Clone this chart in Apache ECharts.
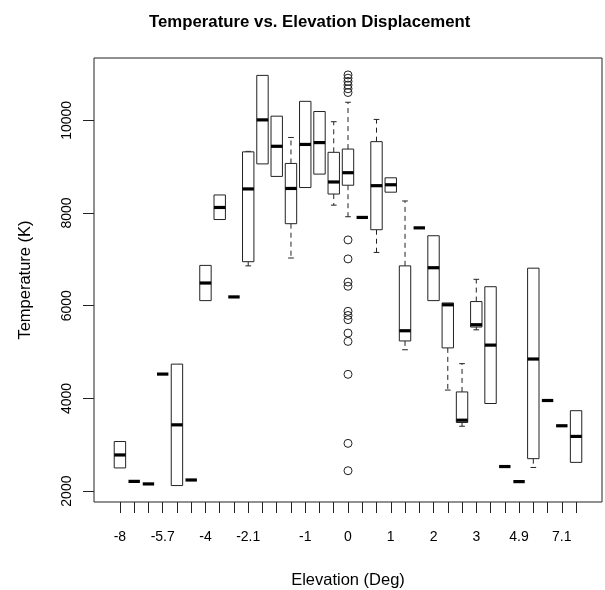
<!DOCTYPE html>
<html>
<head>
<meta charset="utf-8">
<script src="https://cdn.jsdelivr.net/npm/echarts@6/dist/echarts.min.js"></script>
<style>
html,body{margin:0;padding:0;background:#fff;}
#chart{width:605px;height:590px;}
</style>
</head>
<body>
<div id="chart"></div>
<script>
// Elevation displacement categories (only some labels are legible in the reference)
const categories = ['-8','-7.1','-6','-5.7','-5','-4.8','-4','-3.2','-3','-2.1','-2','-1.9','-1.1','-1','-0.9','-0.1','0','0.1','0.9','1','1.1','1.9','2','2.1','2.9','3','3.1','4','4.9','5','6','7.1','8'];
const tickLabels = ['-8','-5.7','-4','-2.1','-1','0','1','2','3','4.9','7.1'];
const yTicks = [2000, 4000, 6000, 8000, 10000];

// Five-number summaries per category
const whiskerLow  = [2500,2210,2155,4525,2120,2240,6110,7860,6190,6860,9060,8790,7030,8550,8840,8170,7920,7905,7150,8450,5050,7680,6110,4180,3400,5480,3890,2530,2205,2510,3955,3410,2620];
const boxLow      = [2500,2210,2155,4525,2120,2240,6110,7860,6190,6950,9060,8790,7770,8550,8840,8410,8600,7905,7640,8450,5240,7680,6110,5090,3480,5540,3890,2530,2205,2700,3955,3410,2620];
const medians     = [2780,2210,2155,4525,3430,2240,6490,8120,6190,8520,10010,9440,8530,9480,9520,8670,8870,7905,8590,8610,5460,7680,6820,6020,3530,5590,5150,2530,2205,4850,3955,3410,3180];
const boxHigh     = [3070,2210,2155,4525,4740,2240,6870,8390,6190,9320,10970,10090,9070,10410,10190,9310,9380,7905,9540,8760,6860,7680,7510,6060,4140,6090,6410,2530,2205,6810,3955,3410,3735];
const whiskerHigh = [3070,2210,2155,4525,4740,2240,6870,8390,6190,9330,10970,10090,9630,10410,10190,9970,10390,7905,10020,8760,8260,7680,7510,6060,4750,6570,6410,2530,2205,6810,3955,3410,3735];

// Outliers (category label, temperature)
const outlierCategory = '0';
const outlierValues = [10980,10910,10840,10760,10680,10600,7420,7010,6510,6420,5880,5790,5700,5410,5230,4520,3030,2440];

const boxData = categories.map((c, i) => [i, whiskerLow[i], boxLow[i], medians[i], boxHigh[i], whiskerHigh[i]]);
const outlierData = outlierValues.map(v => [outlierCategory, v]);

const FONT = "'Liberation Sans', Arial, Helvetica, sans-serif";
const LINE = '#222';

function renderBox(params, api) {
  const x = api.value(0);
  const lo = api.value(1), q1 = api.value(2), med = api.value(3), q3 = api.value(4), hi = api.value(5);
  const band = api.size([1, 0])[0];
  const bw = band * 0.8;
  const cw = bw * 0.5;
  const pLo = api.coord([x, lo]);
  const pQ1 = api.coord([x, q1]);
  const pMed = api.coord([x, med]);
  const pQ3 = api.coord([x, q3]);
  const pHi = api.coord([x, hi]);
  const cx = pMed[0];
  const children = [];
  const dashStyle = {stroke: LINE, lineWidth: 1, lineDash: [5, 4], fill: null};
  const solid = {stroke: LINE, lineWidth: 1, fill: null};
  if (hi > q3) {
    children.push({type: 'line', shape: {x1: cx, y1: pQ3[1], x2: cx, y2: pHi[1]}, style: dashStyle});
    children.push({type: 'line', shape: {x1: cx - cw / 2, y1: pHi[1], x2: cx + cw / 2, y2: pHi[1]}, style: solid});
  }
  if (lo < q1) {
    children.push({type: 'line', shape: {x1: cx, y1: pQ1[1], x2: cx, y2: pLo[1]}, style: dashStyle});
    children.push({type: 'line', shape: {x1: cx - cw / 2, y1: pLo[1], x2: cx + cw / 2, y2: pLo[1]}, style: solid});
  }
  if (q3 > q1) {
    children.push({type: 'rect', shape: {x: cx - bw / 2, y: pQ3[1], width: bw, height: pQ1[1] - pQ3[1]},
      style: {stroke: LINE, lineWidth: 1, fill: '#fff'}});
  }
  children.push({type: 'line', shape: {x1: cx - bw / 2, y1: pMed[1], x2: cx + bw / 2, y2: pMed[1]},
    style: {stroke: '#000', lineWidth: 3.2}});
  return {type: 'group', children: children};
}

const chart = echarts.init(document.getElementById('chart'), null, {renderer: 'canvas'});
const yMin = 1765, yMax = 11345;
chart.setOption({
  animation: false,
  backgroundColor: '#fff',
  title: {
    text: 'Temperature vs. Elevation Displacement',
    left: 144, top: 9,
    textStyle: {fontFamily: FONT, fontSize: 16.8, fontWeight: 'bold', color: '#000'}
  },
  grid: [
    {left: 94, right: 3, top: 58, bottom: 88, containLabel: false, outerBoundsMode: 'none',
     show: true, borderColor: LINE, borderWidth: 1, backgroundColor: 'transparent'},
    {left: 112.8, right: 21.8, top: 58, bottom: 88, containLabel: false, outerBoundsMode: 'none'}
  ],
  xAxis: [
    {gridIndex: 0, type: 'value', show: false, min: 0, max: 1},
    {
      gridIndex: 1, type: 'category', data: categories, boundaryGap: true, position: 'bottom',
      name: 'Elevation (Deg)', nameLocation: 'middle', nameGap: 70,
      nameTextStyle: {fontFamily: FONT, fontSize: 16.5, color: '#000'},
      axisLine: {show: false, onZero: false},
      axisTick: {show: true, alignWithLabel: true, interval: 0, length: 11, lineStyle: {color: LINE}},
      axisLabel: {
        interval: (idx, val) => tickLabels.includes(val),
        fontFamily: FONT, fontSize: 14, color: '#000', margin: 28
      },
      splitLine: {show: false}
    }
  ],
  yAxis: [
    {gridIndex: 0, type: 'value', show: false, min: yMin, max: yMax},
    {
      gridIndex: 1, type: 'value', min: yMin, max: yMax, offset: 18.8,
      name: 'Temperature (K)', nameLocation: 'middle', nameGap: 60, nameRotate: 90,
      nameTextStyle: {fontFamily: FONT, fontSize: 16.5, color: '#000'},
      axisLine: {show: false},
      axisTick: {show: true, length: 11, customValues: yTicks, lineStyle: {color: LINE}},
      axisLabel: {customValues: yTicks, rotate: 90, formatter: v => String(v), fontFamily: FONT, fontSize: 14, color: '#000', margin: 20},
      splitLine: {show: false}
    }
  ],
  series: [
    {
      type: 'custom', xAxisIndex: 1, yAxisIndex: 1,
      renderItem: renderBox,
      data: boxData,
      encode: {x: 0, y: [1, 2, 3, 4, 5]},
      z: 2
    },
    {
      type: 'scatter', xAxisIndex: 1, yAxisIndex: 1,
      data: outlierData,
      symbol: 'circle', symbolSize: 8,
      itemStyle: {color: 'rgba(255,255,255,0)', borderColor: LINE, borderWidth: 1, opacity: 1},
      z: 3
    }
  ]
});
</script>
</body>
</html>
